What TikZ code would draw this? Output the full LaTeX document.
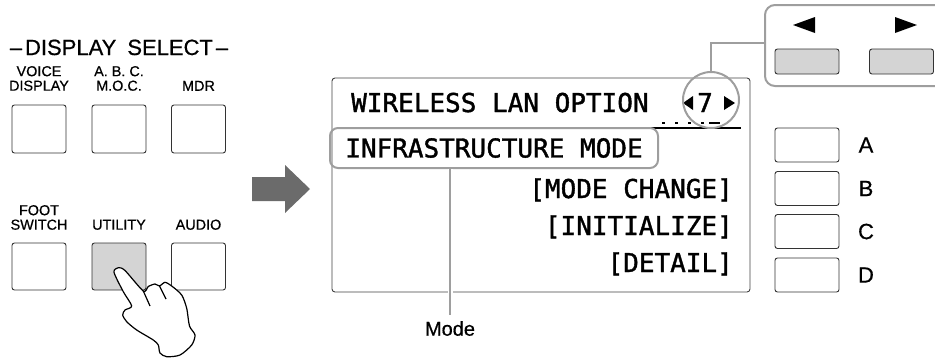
\documentclass[tikz,border=0pt]{standalone}
\usepackage{fontspec}
\setmainfont[FakeBold=0.6]{Liberation Sans}
\newfontfamily\lcdfont[FakeBold=1.4]{DejaVu Sans Mono}
\usepackage{tikz}
\usetikzlibrary{arrows.meta}

\begin{document}
\begin{tikzpicture}[x=1pt,y=-1pt]
\tikzstyle{panel}=[draw=black!80,line width=0.9pt,rounded corners=2.5pt,inner sep=0pt]
\tikzstyle{key}=[panel,minimum width=54pt,minimum height=48pt]
\tikzstyle{wide}=[panel,minimum width=64pt]
\tikzstyle{caption}=[align=center,inner sep=0pt,anchor=south,font=\fontsize{14.4}{14.5}\selectfont]
\tikzstyle{lcd}=[inner sep=0pt,font=\lcdfont\fontsize{26}{26}\selectfont]
\tikzstyle{callout}=[draw=black!38,line width=2pt]
\tikzstyle{letter}=[inner sep=0pt,font=\fontsize{22}{22}\selectfont]

\useasboundingbox (0,0) rectangle (935,360);
\clip (0,0) rectangle (935,360);

% display select panel
\node[letter,anchor=base] (title) at (119,55) {–\hspace{3pt}DISPLAY\hspace{11pt}SELECT\hspace{3pt}–};
\node[key] (voice) at (39,129) {};
\node[key] (abc) at (119,129) {};
\node[key] (mdr) at (198.5,129) {};
\node[key,minimum height=47pt] (foot) at (39,266.5) {};
\node[key,minimum height=47pt,fill=black!17] (utility) at (119,266.5) {};
\node[key,minimum height=47pt] (audio) at (198.5,266.5) {};
\node[caption] (voicecap) at (39,91) {VOICE\\DISPLAY};
\node[caption] (abccap) at (119,91) {A. B. C.\\M.O.C.};
\node[caption] (mdrcap) at (198.5,91) {MDR};
\node[caption] (footcap) at (39,230) {FOOT\\SWITCH};
\node[caption] (utilitycap) at (119,230) {UTILITY};
\node[caption] (audiocap) at (198.5,230) {AUDIO};

% pressing hand
\draw[fill=white,line width=1.2pt,line join=round] plot[smooth cycle,tension=0.45] coordinates {
  (118.3,267.7) (125,270.5) (143.3,291) (148.3,286.5) (155,284) (159.5,286)
  (165,282.3) (171.7,286) (181.7,295) (186.7,308.3) (189.5,326) (195,335)
  (191.7,345) (180,355) (166.7,356.7) (160,353) (158.3,345) (153.3,340)
  (136.7,330) (126.7,321.7) (122.7,315) (125,310) (131.7,306) (123.3,291.7)
  (114,272.3)};
\draw[line width=1.2pt] (143.3,291) .. controls (147,298) .. (150,306);
\draw[line width=1.2pt] (159.5,286) .. controls (163,292) .. (166,299);

\fill[black!58] (252,177) -- (285,177) -- (285,165) -- (310,189) -- (285,213) -- (285,201) -- (252,201) -- cycle;

% lcd screen
\node[panel,draw=black!75,rounded corners=3pt,minimum width=418pt,minimum height=214pt] (screen) at (541,185) {};
\node[lcd,anchor=base west] (heading) at (351,112) {WIRELESS LAN OPTION};
\fill (683,103) -- (693,96) -- (693,110) -- cycle;
\node[lcd,anchor=base] (pagenum) at (705,112) {7};
\fill (735,103) -- (724,96) -- (724,110) -- cycle;
\foreach \x in {662,675,688,701} \fill (\x,121.5) rectangle +(2.5,2.5);
\fill (709,121.5) rectangle +(11,2.5);
\draw[line width=2pt] (648,128) -- (741,128);
\node[callout,rounded corners=8pt,minimum width=328pt,minimum height=40pt,lcd] (modebox) at (494,148) {INFRASTRUCTURE MODE};
\node[lcd,anchor=base east] (change) at (733,198) {[MODE CHANGE]};
\node[lcd,anchor=base east] (init) at (733,235) {[INITIALIZE]};
\node[lcd,anchor=base east] (detail) at (733,272) {[DETAIL]};
\node[callout,circle,minimum size=56pt] (pagering) at (711,100) {};

% page buttons
\node[callout,rounded corners=10pt,minimum width=185pt,minimum height=81pt] (pagebox) at (857.5,45.5) {};
\fill (793,25) -- (815,17) -- (815,33) -- cycle;
\fill (917,25) -- (895,17) -- (895,33) -- cycle;
\node[wide,minimum height=25pt,fill=black!17] (pageleft) at (807,61.5) {};
\node[wide,minimum height=25pt,fill=black!17] (pageright) at (901.5,61.5) {};

% function buttons
\foreach \y/\name in {145/A,188.5/B,231.5/C,275/D} {
  \node[wide,minimum height=34pt] (btn\name) at (807,\y) {};
  \node[letter] (lbl\name) at (866,\y) {\name};
}

% callouts
\node[letter,font=\fontsize{20}{20}\selectfont,anchor=north] (modelabel) at (450,321) {Mode};
\draw[callout,preaction={draw=white,line width=5pt}] (modebox.south -| modelabel.north) -- ([yshift=6pt]modelabel.north);
\draw[callout] (pagering.north) |- ([yshift=3pt]pagebox.west);
\end{tikzpicture}
\end{document}
